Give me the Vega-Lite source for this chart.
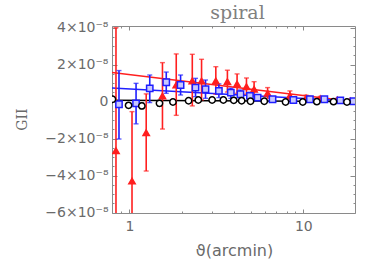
{
  "$schema": "https://vega.github.io/schema/vega-lite/v6.json",
  "autosize": {"type": "none"},
  "padding": {"left": 112, "top": 26, "right": 19, "bottom": 54},
  "width": 243,
  "height": 187,
  "title": {"text": "spiral", "font": "DejaVu Serif", "fontSize": 19, "fontWeight": "normal", "color": "#808080", "anchor": "middle", "frame": "group", "dx": 4, "dy": 25, "offset": 8, "baseline": "alphabetic"},
  "config": {
    "font": "DejaVu Sans",
    "view": {"stroke": "#8a8a8a", "strokeWidth": 1},
    "axis": {"grid": false, "domain": false, "tickColor": "#8a8a8a", "tickWidth": 1, "labelColor": "#6a6a6a", "titleColor": "#6a6a6a", "labelFont": "DejaVu Sans", "titleFont": "DejaVu Sans", "titleFontWeight": "normal"}
  },
  "datasets": {
    "pts": [
      {"series": "red", "theta": 0.838, "g": -2.65e-8, "lo": -9.5e-8, "hi": 4.0e-8},
      {"series": "red", "theta": 1.036, "g": -4.29e-8, "lo": -8.0e-8, "hi": -0.54e-8},
      {"series": "red", "theta": 1.25, "g": -1.68e-8, "lo": -3.75e-8, "hi": 0.42e-8},
      {"series": "red", "theta": 1.55, "g": 0.31e-8, "lo": -1.48e-8, "hi": 2.11e-8},
      {"series": "red", "theta": 1.86, "g": 0.9e-8, "lo": -0.74e-8, "hi": 2.58e-8},
      {"series": "red", "theta": 2.30, "g": 1.12e-8, "lo": -0.23e-8, "hi": 2.56e-8},
      {"series": "red", "theta": 2.60, "g": 1.12e-8, "lo": 0.09e-8, "hi": 2.29e-8},
      {"series": "red", "theta": 3.14, "g": 1.12e-8, "lo": 0.4e-8, "hi": 1.89e-8},
      {"series": "red", "theta": 3.66, "g": 1.08e-8, "lo": 0.52e-8, "hi": 1.7e-8},
      {"series": "red", "theta": 4.16, "g": 0.96e-8, "lo": 0.45e-8, "hi": 1.5e-8},
      {"series": "red", "theta": 4.71, "g": 0.81e-8, "lo": 0.4e-8, "hi": 1.28e-8},
      {"series": "red", "theta": 5.21, "g": 0.67e-8, "lo": 0.31e-8, "hi": 1.08e-8},
      {"series": "red", "theta": 6.23, "g": 0.45e-8, "lo": 0.18e-8, "hi": 0.76e-8},
      {"series": "red", "theta": 8.37, "g": 0.32e-8, "lo": 0.09e-8, "hi": 0.58e-8},
      {"series": "red", "theta": 10.36, "g": 0.2e-8, "lo": 0.05e-8, "hi": 0.35e-8},
      {"series": "red", "theta": 12.5, "g": 0.16e-8, "lo": 0.04e-8, "hi": 0.28e-8},
      {"series": "red", "theta": 15.7, "g": 0.09e-8, "lo": 0.0, "hi": 0.18e-8},
      {"series": "red", "theta": 18.6, "g": 0.04e-8, "lo": -0.04e-8, "hi": 0.12e-8},
      {"series": "blue", "theta": 0.872, "g": -0.14e-8, "lo": -2.02e-8, "hi": 1.68e-8},
      {"series": "blue", "theta": 1.093, "g": -0.09e-8, "lo": -1.2e-8, "hi": 0.99e-8},
      {"series": "blue", "theta": 1.31, "g": 0.72e-8, "lo": -0.05e-8, "hi": 1.44e-8},
      {"series": "blue", "theta": 1.63, "g": 1.05e-8, "lo": 0.45e-8, "hi": 1.6e-8},
      {"series": "blue", "theta": 1.97, "g": 0.9e-8, "lo": 0.36e-8, "hi": 1.44e-8},
      {"series": "blue", "theta": 2.40, "g": 0.76e-8, "lo": 0.27e-8, "hi": 1.26e-8},
      {"series": "blue", "theta": 2.74, "g": 0.67e-8, "lo": 0.18e-8, "hi": 1.17e-8},
      {"series": "blue", "theta": 3.27, "g": 0.58e-8, "lo": 0.22e-8, "hi": 0.96e-8},
      {"series": "blue", "theta": 3.83, "g": 0.49e-8, "lo": 0.18e-8, "hi": 0.72e-8},
      {"series": "blue", "theta": 4.35, "g": 0.4e-8, "lo": 0.14e-8, "hi": 0.63e-8},
      {"series": "blue", "theta": 4.93, "g": 0.31e-8, "lo": 0.11e-8, "hi": 0.51e-8},
      {"series": "blue", "theta": 5.46, "g": 0.22e-8, "lo": 0.07e-8, "hi": 0.37e-8},
      {"series": "blue", "theta": 6.65, "g": 0.13e-8, "lo": 0.03e-8, "hi": 0.23e-8},
      {"series": "blue", "theta": 8.76, "g": 0.09e-8, "lo": 0.01e-8, "hi": 0.17e-8},
      {"series": "blue", "theta": 10.9, "g": 0.13e-8, "lo": 0.03e-8, "hi": 0.23e-8},
      {"series": "blue", "theta": 13.2, "g": 0.13e-8, "lo": 0.05e-8, "hi": 0.21e-8},
      {"series": "blue", "theta": 16.3, "g": 0.07e-8, "lo": 0.01e-8, "hi": 0.13e-8},
      {"series": "blue", "theta": 19.4, "g": 0.02e-8, "lo": -0.03e-8, "hi": 0.07e-8},
      {"series": "black", "theta": 0.80, "g": 0.13e-8, "lo": 0.03e-8, "hi": 0.23e-8},
      {"series": "black", "theta": 0.99, "g": -0.2e-8, "lo": -0.32e-8, "hi": -0.08e-8},
      {"series": "black", "theta": 1.18, "g": -0.23e-8, "lo": -0.38e-8, "hi": -0.08e-8},
      {"series": "black", "theta": 1.49, "g": -0.09e-8, "lo": -0.24e-8, "hi": 0.06e-8},
      {"series": "black", "theta": 1.78, "g": -0.02e-8, "lo": -0.12e-8, "hi": 0.08e-8},
      {"series": "black", "theta": 2.19, "g": 0.05e-8, "lo": -0.05e-8, "hi": 0.15e-8},
      {"series": "black", "theta": 2.49, "g": 0.09e-8, "lo": 0.0, "hi": 0.18e-8},
      {"series": "black", "theta": 2.99, "g": 0.09e-8, "lo": 0.01e-8, "hi": 0.17e-8},
      {"series": "black", "theta": 3.47, "g": 0.09e-8, "lo": 0.01e-8, "hi": 0.17e-8},
      {"series": "black", "theta": 3.98, "g": 0.07e-8, "lo": 0.0, "hi": 0.14e-8},
      {"series": "black", "theta": 4.42, "g": 0.05e-8, "lo": -0.02e-8, "hi": 0.12e-8},
      {"series": "black", "theta": 4.97, "g": 0.02e-8, "lo": -0.04e-8, "hi": 0.08e-8},
      {"series": "black", "theta": 5.96, "g": 0.02e-8, "lo": -0.04e-8, "hi": 0.08e-8},
      {"series": "black", "theta": 7.9, "g": -0.02e-8, "lo": -0.07e-8, "hi": 0.03e-8},
      {"series": "black", "theta": 9.92, "g": -0.02e-8, "lo": -0.07e-8, "hi": 0.03e-8},
      {"series": "black", "theta": 11.95, "g": 0.0, "lo": -0.05e-8, "hi": 0.05e-8},
      {"series": "black", "theta": 14.9, "g": 0.0, "lo": -0.04e-8, "hi": 0.04e-8},
      {"series": "black", "theta": 17.8, "g": -0.02e-8, "lo": -0.06e-8, "hi": 0.02e-8}
    ],
    "fit": [
      {"series": "red", "theta": 0.795, "g": 1.57e-8},
      {"series": "red", "theta": 19.8, "g": 0.0},
      {"series": "blue", "theta": 0.795, "g": 0.74e-8},
      {"series": "blue", "theta": 19.8, "g": 0.02e-8},
      {"series": "black", "theta": 0.795, "g": 0.08e-8},
      {"series": "black", "theta": 19.8, "g": 0.01e-8}
    ]
  },
  "resolve": {"axis": {"x": "independent", "y": "independent"}},
  "layer": [
    {
      "data": {"name": "fit"},
      "mark": {"type": "line", "strokeWidth": 1.5, "clip": true},
      "encoding": {
        "x": {"field": "theta", "type": "quantitative", "scale": {"type": "log", "domain": [0.795, 19.8], "nice": false},
          "axis": {"orient": "bottom", "values": [1, 10], "ticks": false, "labelFontSize": 14, "labelPadding": 6, "title": "ϑ(arcmin)", "titleFontSize": 16, "titleX": 122, "titleY": 37, "titleBaseline": "middle", "titleAlign": "center"}},
        "y": {"field": "g", "type": "quantitative", "scale": {"domain": [-6.02e-8, 4.09e-8], "nice": false, "zero": false},
          "axis": {"orient": "left", "values": [-6e-8, -4e-8, -2e-8, 0, 2e-8, 4e-8], "ticks": false, "labelFontSize": 14, "labelPadding": 4, "labelExpr": "datum.value == 0 ? '0' : (datum.value < 0 ? '−' : '') + format(abs(datum.value) * 1e8, '.0f') + '×10⁻⁸'", "title": "GII", "titleFont": "DejaVu Serif", "titleFontSize": 14, "titleX": -90, "titleY": 93, "titleBaseline": "middle", "titleAlign": "center"}},
        "color": {"field": "series", "type": "nominal", "scale": {"domain": ["red", "blue", "black"], "range": ["#ff1f1f", "#1f1fff", "#000000"]}, "legend": null},
        "detail": {"field": "series"}
      }
    },
    {
      "data": {"name": "pts"},
      "mark": {"type": "rule", "strokeWidth": 1.6, "clip": true},
      "encoding": {
        "x": {"field": "theta", "type": "quantitative", "axis": {"orient": "bottom", "values": [1, 10], "labels": false, "tickSize": -4, "title": null}},
        "y": {"field": "lo", "type": "quantitative", "axis": {"orient": "left", "values": [-6e-8, -4e-8, -2e-8, 0, 2e-8, 4e-8], "labels": false, "tickSize": -5, "title": null}},
        "y2": {"field": "hi"},
        "color": {"field": "series", "type": "nominal", "legend": null}
      }
    },
    {
      "data": {"name": "pts"},
      "mark": {"type": "tick", "orient": "horizontal", "size": 5, "thickness": 1.4, "clip": true},
      "encoding": {
        "x": {"field": "theta", "type": "quantitative", "axis": {"orient": "bottom", "values": [0.8, 0.9, 2, 3, 4, 5, 6, 7, 8, 9], "labels": false, "tickSize": -2, "title": null}},
        "y": {"field": "lo", "type": "quantitative", "axis": {"orient": "left", "values": [-5.5e-8, -5e-8, -4.5e-8, -3.5e-8, -3e-8, -2.5e-8, -1.5e-8, -1e-8, -0.5e-8, 0.5e-8, 1e-8, 1.5e-8, 2.5e-8, 3e-8, 3.5e-8], "labels": false, "tickSize": -2, "title": null}},
        "color": {"field": "series", "type": "nominal", "legend": null}
      }
    },
    {
      "data": {"name": "pts"},
      "mark": {"type": "tick", "orient": "horizontal", "size": 5, "thickness": 1.4, "clip": true},
      "encoding": {
        "x": {"field": "theta", "type": "quantitative", "axis": {"orient": "top", "values": [1, 10], "labels": false, "tickSize": -4, "title": null}},
        "y": {"field": "hi", "type": "quantitative", "axis": {"orient": "right", "values": [-6e-8, -4e-8, -2e-8, 0, 2e-8, 4e-8], "labels": false, "tickSize": -5, "title": null}},
        "color": {"field": "series", "type": "nominal", "legend": null}
      }
    },
    {
      "data": {"name": "pts"},
      "mark": {"type": "point", "filled": true, "size": 40, "strokeWidth": 1.5, "opacity": 1, "clip": true},
      "encoding": {
        "x": {"field": "theta", "type": "quantitative", "axis": {"orient": "top", "values": [0.8, 0.9, 2, 3, 4, 5, 6, 7, 8, 9], "labels": false, "tickSize": -2, "title": null}},
        "y": {"field": "g", "type": "quantitative", "axis": {"orient": "right", "values": [-5.5e-8, -5e-8, -4.5e-8, -3.5e-8, -3e-8, -2.5e-8, -1.5e-8, -1e-8, -0.5e-8, 0.5e-8, 1e-8, 1.5e-8, 2.5e-8, 3e-8, 3.5e-8], "labels": false, "tickSize": -2, "title": null}},
        "shape": {"field": "series", "type": "nominal", "scale": {"domain": ["red", "blue", "black"], "range": ["triangle-up", "square", "circle"]}, "legend": null},
        "fill": {"field": "series", "type": "nominal", "scale": {"domain": ["red", "blue", "black"], "range": ["#ff1f1f", "#c8c8ff", "#ffffff"]}, "legend": null},
        "stroke": {"field": "series", "type": "nominal", "scale": {"domain": ["red", "blue", "black"], "range": ["#ff1f1f", "#1f1fff", "#000000"]}, "legend": null}
      }
    }
  ]
}
